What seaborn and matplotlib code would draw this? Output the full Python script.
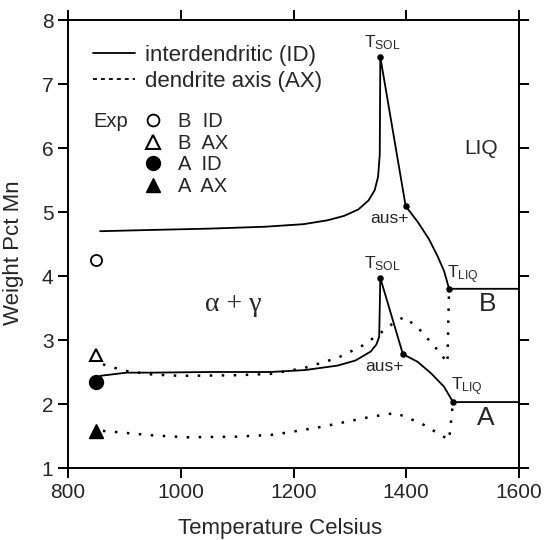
import numpy as np
import pandas as pd
import matplotlib
matplotlib.use("Agg")
import matplotlib.pyplot as plt
from matplotlib.lines import Line2D
import seaborn as sns

# ---------------- data ----------------
# Alloy B, interdendritic (solid)
b_id_T = [857, 950, 1050, 1150, 1218, 1260, 1290, 1315, 1333, 1344, 1350, 1353, 1354,
          1399, 1420, 1440, 1455, 1467, 1476, 1600]
b_id_W = [4.70, 4.72, 4.74, 4.77, 4.81, 4.87, 4.94, 5.04, 5.18, 5.34, 5.55, 5.90, 7.42,
          5.09, 4.85, 4.58, 4.32, 4.08, 3.80, 3.80]
# Alloy B, dendrite axis (dotted)
b_ax_T = [862, 900, 950, 1000, 1100, 1160, 1218, 1278, 1320, 1350, 1375, 1396,
          1420, 1440, 1460, 1473, 1476]
b_ax_W = [2.62, 2.52, 2.46, 2.44, 2.45, 2.47, 2.56, 2.72, 2.90, 3.08, 3.25, 3.36,
          3.20, 3.00, 2.80, 2.64, 3.80]
# Alloy A, interdendritic (solid)
a_id_T = [857, 904, 950, 1050, 1159, 1220, 1278, 1310, 1337, 1347, 1352, 1354,
          1394, 1420, 1444, 1467, 1483, 1600]
a_id_W = [2.44, 2.49, 2.49, 2.50, 2.50, 2.53, 2.60, 2.68, 2.82, 2.93, 3.05, 3.97,
          2.78, 2.66, 2.48, 2.27, 2.03, 2.03]
# Alloy A, dendrite axis (dotted)
a_ax_T = [862, 900, 950, 1011, 1100, 1165, 1248, 1337, 1381, 1426, 1476, 1483]
a_ax_W = [1.58, 1.55, 1.51, 1.48, 1.49, 1.52, 1.64, 1.80, 1.86, 1.70, 1.44, 2.03]

# key points (T_SOL, aus+, T_LIQ)
key_T = [1354, 1399, 1476, 1354, 1394, 1483]
key_W = [7.42, 5.09, 3.80, 3.97, 2.78, 2.03]

# experimental points
exp_T = [850, 850, 850, 850]
exp_W = [4.25, 2.77, 2.34, 1.58]
exp_lab = ["B  ID", "B  AX", "A  ID", "A  AX"]

x_ticks = [800, 1000, 1200, 1400, 1600]
y_ticks = [1, 2, 3, 4, 5, 6, 7, 8]

# ---------------- style ----------------
sns.set_style("ticks")
plt.rcParams['font.family'] = ['Liberation Sans', 'DejaVu Sans']
plt.rcParams['mathtext.fontset'] = 'custom'
plt.rcParams['mathtext.rm'] = 'Liberation Sans'
plt.rcParams['mathtext.it'] = 'Liberation Sans:italic'

fig = plt.figure(figsize=(5.44, 5.40), dpi=100)
ax = fig.add_axes([68 / 544, 72 / 540, 451 / 544, 448 / 540])

LW = 1.3
dot_style = (0, (1, 3.8))
DLW = 1.8

def draw(T, W, ls, lw):
    df = pd.DataFrame({"T": T, "W": W})
    sns.lineplot(data=df, x="T", y="W", sort=False, estimator=None, ax=ax,
                 color="black", lw=lw, linestyle=ls)

draw(b_id_T, b_id_W, "-", LW)
draw(a_id_T, a_id_W, "-", LW)
draw(b_ax_T, b_ax_W, dot_style, DLW)
draw(a_ax_T, a_ax_W, dot_style, DLW)

sns.scatterplot(x=key_T, y=key_W, ax=ax, color="black", s=22, edgecolor="black",
                linewidth=0, zorder=5)

# experimental markers
ax.plot(exp_T[0], exp_W[0], marker="o", ms=8, mfc="white", mec="black", mew=1.3, ls="none")
ax.plot(exp_T[1], exp_W[1], marker="^", ms=9, mfc="white", mec="black", mew=1.5, ls="none")
ax.plot(exp_T[2], exp_W[2], marker="o", ms=10, mfc="black", mec="black", ls="none")
ax.plot(exp_T[3], exp_W[3], marker="^", ms=9.5, mfc="black", mec="black", ls="none")

# ---------------- axes ----------------
ax.set_xlim(800, 1600)
ax.set_ylim(1, 8)
ax.set_xticks(x_ticks)
ax.set_yticks(y_ticks)
ax.tick_params(axis="both", which="both", direction="out", length=7, width=1.4,
               labelsize=15, top=True, right=True, labeltop=False, labelright=False,
               color="black")
for s in ax.spines.values():
    s.set_visible(True)
    s.set_linewidth(1.4)
    s.set_color("black")
ax.set_xlabel("Temperature Celsius", fontsize=16)
ax.set_ylabel("Weight Pct Mn", fontsize=16)
ax.xaxis.set_label_coords(0.47, -0.112)
ax.yaxis.set_label_coords(-0.097, 0.48)

# ---------------- annotations ----------------
tfs = 12.5
ax.text(1358, 7.50, r"$\mathregular{T_{SOL}}$", ha="center", va="bottom", fontsize=tfs)
ax.text(1358, 4.05, r"$\mathregular{T_{SOL}}$", ha="center", va="bottom", fontsize=tfs)
ax.text(1473, 3.85, r"$\mathregular{T_{LIQ}}$", ha="left", va="bottom", fontsize=tfs)
ax.text(1479, 2.09, r"$\mathregular{T_{LIQ}}$", ha="left", va="bottom", fontsize=tfs)
ax.text(1404, 5.02, "aus+", ha="right", va="top", fontsize=tfs)
ax.text(1395, 2.70, "aus+", ha="right", va="top", fontsize=tfs)
ax.text(1532, 6.0, "LIQ", ha="center", va="center", fontsize=15)
ax.text(1545, 3.56, "B", ha="center", va="center", fontsize=19)
ax.text(1541, 1.78, "A", ha="center", va="center", fontsize=19)
ax.text(1093, 3.55, "α + γ", ha="center", va="center", fontsize=20,
        family=["Liberation Serif", "DejaVu Serif"])

# ---------------- legends ----------------
h1 = [Line2D([], [], color="black", lw=LW, ls="-"),
      Line2D([], [], color="black", lw=LW, ls=(0, (2.2, 2.2)))]
leg1 = ax.legend(h1, ["interdendritic (ID)", "dendrite axis (AX)"], loc="upper left",
                 bbox_to_anchor=(0.0554, 0.945), frameon=False, fontsize=16,
                 handlelength=1.88, handletextpad=0.47, labelspacing=0.25,
                 borderpad=0, borderaxespad=0)
ax.add_artist(leg1)

h2 = [Line2D([], [], marker="o", ms=8.5, mfc="white", mec="black", mew=1.3, ls="none"),
      Line2D([], [], marker="^", ms=9.5, mfc="white", mec="black", mew=1.5, ls="none"),
      Line2D([], [], marker="o", ms=10, mfc="black", mec="black", ls="none"),
      Line2D([], [], marker="^", ms=10, mfc="black", mec="black", ls="none")]
leg2 = ax.legend(h2, exp_lab, loc="upper left", bbox_to_anchor=(0.167, 0.795),
                 frameon=False, fontsize=14.5, handlelength=1.0, handletextpad=0.74,
                 labelspacing=0.14, borderpad=0, borderaxespad=0)
ax.text(0.0554, 0.773, "Exp", transform=ax.transAxes, ha="left", va="center",
        fontsize=14.5)

fig.savefig("out.png", dpi=100)
